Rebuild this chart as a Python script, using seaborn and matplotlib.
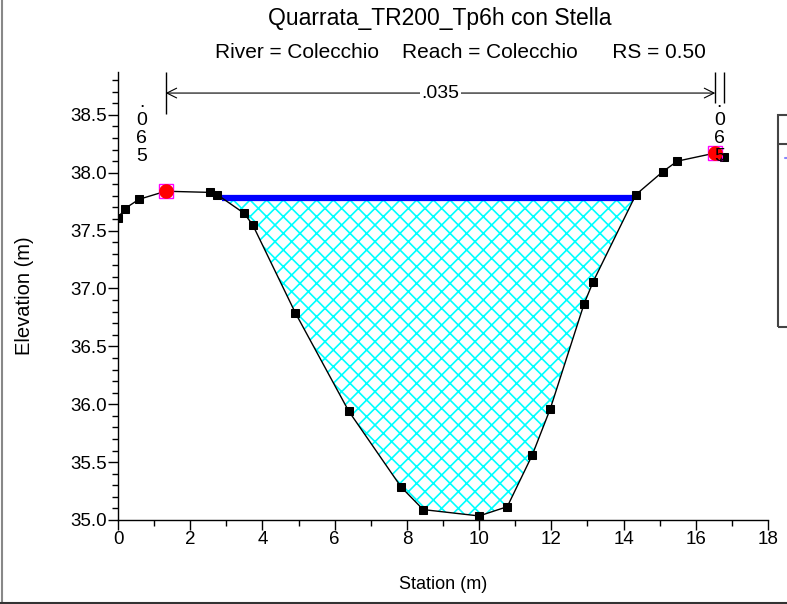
import numpy as np
import matplotlib
matplotlib.use('Agg')
import matplotlib.pyplot as plt
import matplotlib.patches as mpatches
from matplotlib.ticker import MultipleLocator, FormatStrFormatter
import seaborn as sns

### cross section data
station = np.array([0.0, 0.19, 0.58, 1.32, 2.55, 2.75, 3.49, 3.73, 4.91, 6.39, 7.84, 8.45,
                    10.0, 10.78, 11.47, 11.97, 12.91, 13.16, 14.34, 15.09, 15.49, 16.54, 16.77])
elevation = np.array([37.61, 37.69, 37.77, 37.84, 37.83, 37.81, 37.65, 37.55, 36.79, 35.94, 35.285, 35.09,
                      35.035, 35.115, 35.56, 35.96, 36.87, 37.06, 37.81, 38.01, 38.10, 38.17, 38.14])
bank_stations = [1.32, 16.54]
water_surface = 37.78
n_values = ['.065', '.035', '.065']

title = 'Quarrata_TR200_Tp6h con Stella'
subtitle = 'River = Colecchio    Reach = Colecchio      RS = 0.50'

### style
sns.set_style('ticks', {'axes.edgecolor': 'black', 'xtick.color': 'black', 'ytick.color': 'black',
                        'text.color': 'black', 'axes.labelcolor': 'black'})
plt.rcParams['font.family'] = ['Liberation Sans', 'DejaVu Sans']
plt.rcParams['hatch.linewidth'] = 1.2
plt.rcParams['hatch.color'] = 'cyan'

fig = plt.figure(figsize=(7.87, 6.04), dpi=100)
ax = fig.add_axes([118/787, 1-520/604, 650/787, 448/604])

### water fill inside the main channel
in_channel = (station >= bank_stations[0]) & (station <= bank_stations[1])
wet = (elevation < water_surface) & in_channel
ax.fill_between(station, elevation, water_surface, where=wet, interpolate=True,
                facecolor='white', edgecolor='cyan', hatch='xx', linewidth=0, zorder=1)

### water surface line between the two crossings
i0 = np.argmax(wet)
i1 = len(wet) - 1 - np.argmax(wet[::-1])
x_left = np.interp(water_surface, [elevation[i0], elevation[i0-1]], [station[i0], station[i0-1]])
x_right = np.interp(water_surface, [elevation[i1], elevation[i1+1]], [station[i1], station[i1+1]])
ax.plot([x_left, x_right], [water_surface, water_surface], color='blue', lw=4.5,
        solid_capstyle='butt', zorder=2)

### ground
sns.lineplot(x=station, y=elevation, sort=False, color='black', lw=1, marker='s', markersize=6,
             markeredgecolor='black', ax=ax, zorder=3)

### bank stations
bank_elev = np.interp(bank_stations, station, elevation)
ax.plot(bank_stations, bank_elev, 's', mfc='none', mec='magenta', ms=10, mew=1, zorder=4)
ax.plot(bank_stations, bank_elev, 'o', color='red', ms=9.5, zorder=5)

### axes
ax.set_xlim(0, 18)
ax.set_ylim(35.0, 38.87)
ax.xaxis.set_major_locator(MultipleLocator(2))
ax.xaxis.set_minor_locator(MultipleLocator(1))
ax.yaxis.set_major_locator(MultipleLocator(0.5))
ax.yaxis.set_minor_locator(MultipleLocator(0.1))
ax.yaxis.set_major_formatter(FormatStrFormatter('%.1f'))
ax.tick_params(which='major', direction='out', length=7, width=1, labelsize=13.5, pad=1)
ax.tick_params(which='minor', direction='out', length=4, width=1)
ax.spines[['top', 'right']].set_visible(False)
ax.spines[['left', 'bottom']].set_linewidth(1)
ax.set_xlabel('Station (m)', fontsize=13)
ax.set_ylabel('Elevation (m)', fontsize=14.5)
ax.xaxis.set_label_coords(0.5, (520-576)/448)
ax.yaxis.set_label_coords((34-118)/650, 0.5)

### manning n regions
trans = ax.get_xaxis_transform()
edges = [station[0]] + bank_stations + [station[-1]]
ax.vlines([bank_stations[0]], 0.906, 1.0, transform=trans, color='black', lw=1)
ax.vlines([bank_stations[1], station[-1]], 0.93, 1.0, transform=trans, color='black', lw=1)
ax.annotate('', xy=(bank_stations[0], 0.953), xytext=(bank_stations[1], 0.953), xycoords=trans,
            arrowprops=dict(arrowstyle='<->,head_length=0.5,head_width=0.25', lw=0.8,
                            mutation_scale=14, shrinkA=0, shrinkB=0, color='black'))
for k, n in enumerate(n_values):
    xc = (edges[k] + edges[k+1]) / 2
    if edges[k+1] - edges[k] < 3:
        ax.text(xc, 0.952, '\n'.join(n), transform=trans, ha='center', va='top',
                fontsize=14, linespacing=1.08, zorder=6)
    else:
        ax.text(xc, 0.953, n, transform=trans, ha='center', va='center', fontsize=14,
                bbox=dict(facecolor='white', edgecolor='none', pad=1), zorder=6)

### titles
fig.text(440/787, 1-19/604, title, ha='center', va='center', fontsize=16.5)
fig.text(460/787, 1-52/604, subtitle, ha='center', va='center', fontsize=15)

### cut-off legend box and window frame
fig.add_artist(mpatches.Rectangle((778/787, 1-327/604), 30/787, 212/604, transform=fig.transFigure,
                                  fill=False, edgecolor='#444444', lw=1.5))
fig.add_artist(plt.Line2D([778/787, 1], [1-144/604, 1-144/604], transform=fig.transFigure,
                          color='#444444', lw=1.5))
fig.add_artist(plt.Line2D([785/787, 1], [1-158/604, 1-158/604], transform=fig.transFigure,
                          color='#8888ff', lw=1.5))
fig.add_artist(plt.Line2D([1.5/787, 1.5/787], [0, 1], transform=fig.transFigure, color='#888888', lw=1.5))
fig.add_artist(plt.Line2D([0, 1], [1.5/604, 1.5/604], transform=fig.transFigure, color='#333333', lw=1.5))

fig.savefig('out.png', dpi=100)
